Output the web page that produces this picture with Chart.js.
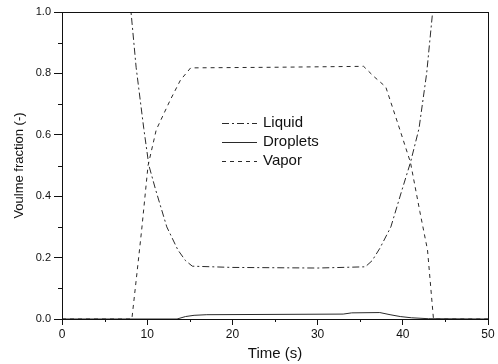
<!DOCTYPE html>
<html>
<head>
<meta charset="utf-8">
<script src="https://cdn.jsdelivr.net/npm/chart.js@4"></script>
<style>
  body { margin: 0; background: #fff; }
  #wrap { width: 498px; height: 364px; }
</style>
</head>
<body>
<div id="wrap"><canvas id="fracChart" width="498" height="364"></canvas></div>
<script>
/* data */
const liquidTime = [0, 8.1, 8.7, 9.6, 10.2, 11.0, 12.3, 13.6, 14.5, 15.3, 20, 25, 30, 35.6, 36.4, 37.3, 38.6, 39.9, 40.9, 41.9, 42.8, 43.5, 50];
const liquidFrac = [1.0, 1.0, 0.82, 0.62, 0.5, 0.42, 0.3, 0.225, 0.19, 0.172, 0.168, 0.167, 0.166, 0.17, 0.19, 0.23, 0.3, 0.42, 0.51, 0.62, 0.8, 1.0, 1.0];

const dropTime = [0, 13.5, 14.5, 15.5, 17, 25, 33, 34, 37.3, 38.5, 39.7, 41, 43, 50];
const dropFrac = [0, 0, 0.008, 0.012, 0.014, 0.015, 0.016, 0.02, 0.021, 0.014, 0.008, 0.004, 0.001, 0];

const vaporTime = [0, 8.2, 8.8, 9.35, 10.1, 11.06, 12.7, 13.9, 15.1, 25, 35.4, 36.6, 38.0, 39.5, 40.9, 42.0, 42.9, 43.6, 50];
const vaporFrac = [0, 0, 0.15, 0.29, 0.5, 0.616, 0.713, 0.778, 0.818, 0.82, 0.823, 0.79, 0.756, 0.63, 0.51, 0.35, 0.225, 0, 0];

const xTicks = [0, 10, 20, 30, 40, 50];
const yTicks = [0.0, 0.2, 0.4, 0.6, 0.8, 1.0];

function toPoints(xs, ys) {
  return xs.map((x, i) => ({ x: x, y: ys[i] }));
}

const ink = '#2a2a2a';

/* box round the plot + minor ticks */
const frameBox = {
  id: 'frameBox',
  afterDraw(chart) {
    const { ctx, chartArea: a, scales } = chart;
    ctx.save();
    ctx.strokeStyle = '#111';
    ctx.lineWidth = 1;
    ctx.strokeRect(a.left + 0.5, a.top + 0.5, a.right - a.left, a.bottom - a.top);
    ctx.beginPath();
    for (let v = 5; v < 50; v += 10) {
      const px = Math.round(scales.x.getPixelForValue(v)) + 0.5;
      ctx.moveTo(px, a.bottom);
      ctx.lineTo(px, a.bottom + 3);
    }
    for (let v = 0.1; v < 1; v += 0.2) {
      const py = Math.round(scales.y.getPixelForValue(v)) + 0.5;
      ctx.moveTo(a.left, py);
      ctx.lineTo(a.left - 4, py);
    }
    ctx.stroke();
    ctx.restore();
  }
};

/* legend sitting inside the plot */
const innerLegend = {
  id: 'innerLegend',
  afterDraw(chart) {
    const { ctx, chartArea: a } = chart;
    const x0 = a.left + 160, x1 = a.left + 195, tx = a.left + 201;
    ctx.save();
    ctx.font = '15px "Liberation Sans", Arial, sans-serif';
    ctx.fillStyle = '#111';
    ctx.textBaseline = 'middle';
    chart.data.datasets.forEach((ds, i) => {
      const y = a.top + 111 + i * 19;
      ctx.strokeStyle = ds.borderColor;
      ctx.lineWidth = 1;
      ctx.setLineDash(ds.borderDash || []);
      ctx.beginPath();
      ctx.moveTo(x0, y + 0.5);
      ctx.lineTo(x1, y + 0.5);
      ctx.stroke();
      ctx.fillText(ds.label, tx, y);
    });
    ctx.restore();
  }
};

const ctx = document.getElementById('fracChart').getContext('2d');

new Chart(ctx, {
  type: 'scatter',
  data: {
    datasets: [
      {
        label: 'Liquid',
        data: toPoints(liquidTime, liquidFrac),
        showLine: true,
        borderColor: ink,
        borderWidth: 1,
        borderDash: [7, 3, 2, 3],
        pointRadius: 0
      },
      {
        label: 'Droplets',
        data: toPoints(dropTime, dropFrac),
        showLine: true,
        borderColor: ink,
        borderWidth: 1,
        pointRadius: 0
      },
      {
        label: 'Vapor',
        data: toPoints(vaporTime, vaporFrac),
        showLine: true,
        borderColor: ink,
        borderWidth: 1,
        borderDash: [4, 4],
        pointRadius: 0
      }
    ]
  },
  options: {
    responsive: false,
    animation: false,
    layout: { padding: { top: 12, right: 10, left: 0, bottom: 0 } },
    plugins: {
      legend: { display: false },
      tooltip: { enabled: false }
    },
    scales: {
      x: {
        type: 'linear',
        min: 0,
        max: 50,
        afterFit: (scale) => { scale.height = 45; },
        afterBuildTicks: (scale) => { scale.ticks = xTicks.map(v => ({ value: v })); },
        ticks: {
          color: '#111',
          padding: 2,
          font: { family: '"Liberation Sans", Arial, sans-serif', size: 12 }
        },
        grid: { drawOnChartArea: false, tickLength: 6, color: '#111' },
        border: { color: '#111' },
        title: {
          display: true,
          text: 'Time (s)',
          color: '#111',
          padding: { top: 0, bottom: 1 },
          font: { family: '"Liberation Sans", Arial, sans-serif', size: 15 }
        }
      },
      y: {
        min: 0,
        max: 1,
        afterFit: (scale) => { scale.width = 62; },
        afterBuildTicks: (scale) => { scale.ticks = yTicks.map(v => ({ value: v })); },
        ticks: {
          color: '#111',
          padding: 3,
          callback: (v) => Number(v).toFixed(1),
          font: { family: '"Liberation Sans", Arial, sans-serif', size: 11 }
        },
        grid: { drawOnChartArea: false, tickLength: 8, color: '#111' },
        border: { color: '#111' },
        title: {
          display: true,
          text: 'Voulme fraction (-)',
          color: '#111',
          padding: { top: 12, bottom: 0 },
          font: { family: '"Liberation Sans", Arial, sans-serif', size: 13 }
        }
      }
    }
  },
  plugins: [frameBox, innerLegend]
});
</script>
</body>
</html>
